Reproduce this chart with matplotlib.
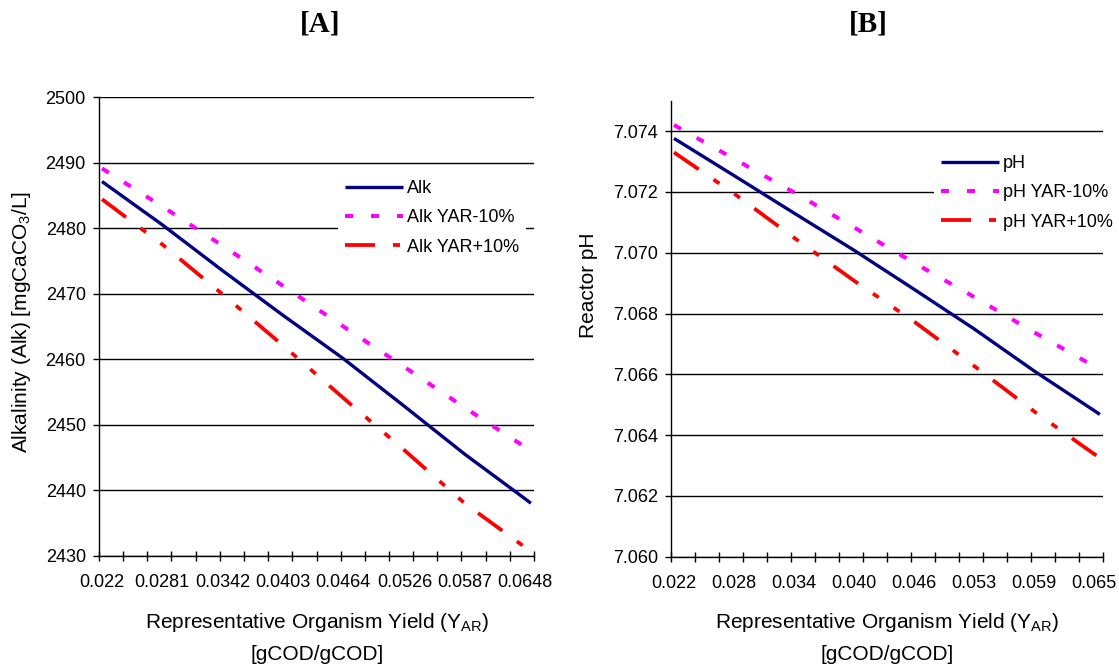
import matplotlib
matplotlib.use("Agg")
import matplotlib.pyplot as plt
from matplotlib.ticker import FixedLocator, NullFormatter

# --- data -----------------------------------------------------------------
# representative organism yield (gCOD/gCOD) at the sampled categories
yar = [0.0220, 0.0281, 0.0342, 0.0403, 0.0464, 0.0526, 0.0587, 0.0648, 0.0654]

alk = [2487.1, 2480.5, 2473.5, 2466.7, 2460.1, 2452.8, 2445.5, 2438.7, 2438.0]
alk_yar_m10 = [2489.1, 2483.3, 2477.3, 2471.2, 2465.0, 2458.8, 2452.6, 2446.6, 2446.1]
alk_yar_p10 = [2484.4, 2477.5, 2469.9, 2462.1, 2454.1, 2446.1, 2438.0, 2431.3, 2430.6]

ph = [7.07376, 7.07254, 7.07131, 7.07009, 7.06881, 7.06749, 7.06611, 7.06481, 7.06468]
ph_yar_m10 = [7.07420, 7.07309, 7.07199, 7.07084, 7.06968, 7.06854, 7.06738, 7.06627, 7.06615]
ph_yar_p10 = [7.07330, 7.07195, 7.07050, 7.06909, 7.06775, 7.06627, 7.06478, 7.06338, 7.06327]

xlabels_a = ["0.022", "0.0281", "0.0342", "0.0403", "0.0464", "0.0526", "0.0587", "0.0648"]
xlabels_b = ["0.022", "0.028", "0.034", "0.040", "0.046", "0.053", "0.059", "0.065"]

yticks_a = [2430, 2440, 2450, 2460, 2470, 2480, 2490, 2500]
yticks_b = [7.060, 7.062, 7.064, 7.066, 7.068, 7.070, 7.072, 7.074]

n_categories = 72        # evenly spaced yield categories
label_every = 10         # a tick label every 10th category
tick_every = 4           # a tick mark every 4th category

# --- style ----------------------------------------------------------------
plt.rcParams["font.family"] = ["Liberation Sans", "DejaVu Sans"]
plt.rcParams["mathtext.default"] = "regular"
plt.rcParams["lines.scale_dashes"] = False

W, H = 1119, 668
fig = plt.figure(figsize=(W / 100, H / 100), dpi=100)


def axes_px(left, top, right, bottom):
    return fig.add_axes([left / W, 1 - bottom / H, (right - left) / W, (bottom - top) / H])


PX = 0.72  # points per pixel at 100 dpi
styles = [
    dict(color="#000080", lw=2.4, ls="-"),
    dict(color="#FF00FF", lw=2.9, dashes=(8 * PX, 18 * PX)),
    dict(color="#FF0000", lw=2.7, dashes=(30 * PX, 18 * PX, 7 * PX, 18 * PX, 7 * PX, 18 * PX)),
]

step = (yar[7] - yar[0]) / (label_every * (len(xlabels_a) - 1))
x_lo = yar[0] - step / 2
x_hi = x_lo + n_categories * step
tick_pos = [x_lo + k * tick_every * step for k in range(n_categories // tick_every + 1)]
label_pos = yar[:len(xlabels_a)]


def style_axes(ax, ylim, yticks, yfmt, xlabels):
    ax.set_xlim(x_lo, x_hi)
    ax.set_ylim(*ylim)
    ax.xaxis.set_major_locator(FixedLocator(tick_pos))
    ax.xaxis.set_major_formatter(NullFormatter())
    ax.xaxis.set_minor_locator(FixedLocator(label_pos))
    ax.set_xticks(label_pos, xlabels, minor=True)
    ax.tick_params(axis="x", which="major", direction="inout", length=7, width=1, color="black")
    ax.tick_params(axis="x", which="minor", length=0, pad=13.5, labelsize=13)
    ax.set_yticks(yticks, [yfmt.format(v) for v in yticks])
    ax.tick_params(axis="y", direction="out", length=4.5, width=1, pad=5, labelsize=13)
    ax.yaxis.grid(True, color="black", lw=1.0)
    ax.set_axisbelow(True)
    for s in ("top", "right"):
        ax.spines[s].set_visible(False)
    for s in ("left", "bottom"):
        ax.spines[s].set_color("black")
        ax.spines[s].set_linewidth(1.0)
        ax.spines[s].set_zorder(3)


# --- panel A: alkalinity --------------------------------------------------
axA = axes_px(99, 97, 534, 555.7)
for series, label, st in zip([alk, alk_yar_m10, alk_yar_p10],
                             ["Alk", "Alk YAR-10%", "Alk YAR+10%"], styles):
    axA.plot(yar, series, label=label, solid_capstyle="butt", dash_capstyle="butt", **st)
style_axes(axA, (2430, 2500), yticks_a, "{:.0f}", xlabels_a)

# --- panel B: reactor pH --------------------------------------------------
axB = axes_px(671, 100.7, 1103, 556.7)
for series, label, st in zip([ph, ph_yar_m10, ph_yar_p10],
                             ["pH", "pH YAR-10%", "pH YAR+10%"], styles):
    axB.plot(yar, series, label=label, solid_capstyle="butt", dash_capstyle="butt", **st)
style_axes(axB, (7.060, 7.075), yticks_b, "{:.3f}", xlabels_b)

# --- legends --------------------------------------------------------------
leg_kw = dict(loc="upper left", bbox_transform=fig.transFigure, frameon=True,
              facecolor="white", edgecolor="none", fancybox=False, framealpha=1,
              borderpad=0.4, borderaxespad=0, handlelength=3.2, handletextpad=0.2,
              labelspacing=0.68, fontsize=13)
legA = axA.legend(bbox_to_anchor=(338 / W, 1 - 173 / H), **leg_kw)
legB = axB.legend(bbox_to_anchor=(934 / W, 1 - 148 / H), **leg_kw)
for leg in (legA, legB):
    leg.get_frame().set_linewidth(0)

# --- axis titles ----------------------------------------------------------
fig.text(22 / W, 1 - 322 / H, "Alkalinity (Alk) [mgCaCO$_3$/L]", rotation=90,
         ha="center", va="center", fontsize=15)
fig.text(588 / W, 1 - 285 / H, "Reactor pH", rotation=90,
         ha="center", va="center", fontsize=15)

for xc in (317, 887):
    fig.text(xc / W, 1 - 623 / H, "Representative Organism Yield (Y$_{AR}$)",
             ha="center", va="center", fontsize=15)
    fig.text(xc / W, 1 - 654 / H, "[gCOD/gCOD]", ha="center", va="center", fontsize=15)

# --- panel titles ---------------------------------------------------------
for xc, t in ((320, "[A]"), (868, "[B]")):
    fig.text(xc / W, 1 - 24 / H, t, ha="center", va="center", fontsize=21,
             fontfamily="Liberation Serif", fontweight="bold")

fig.savefig("out.png", dpi=100, facecolor="white")
